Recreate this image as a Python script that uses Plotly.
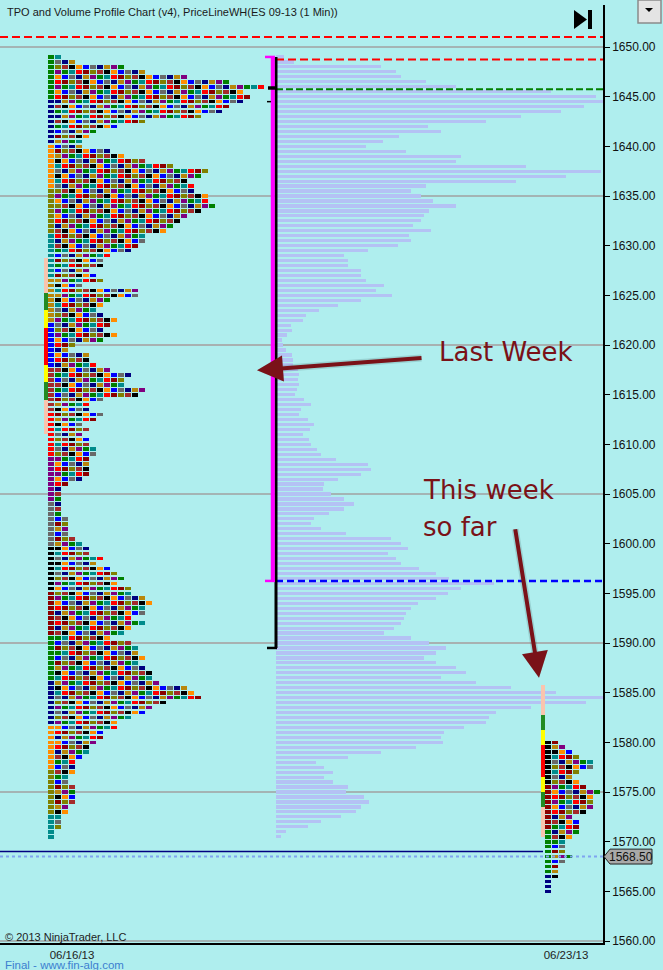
"""TPO and volume profile (ES 09-13, 1 min) rebuilt with Plotly bars and shapes."""

import numpy as np
import plotly.graph_objects as go

_BG = "#afeeee"
_INK = "#111111"
_FONT = "Arial, 'Liberation Sans', sans-serif"
_CALLOUT_FONT = "'DejaVu Sans', Verdana, sans-serif"
_MAROON = "#7a1218"
_VOL = "#b4c2f4"

# TPO palette (one colour per letter / time period)
_TPO_COLORS = ["#008000", "#ff0000", "#808000", "#000000", "#0000ff", "#000080",
               "#800080", "#008b8b", "#8b0000", "#a52a2a", "#ff8c00", "#696969",
               "#b8860b"]

# ---- data -----------------------------------------------------------------
STEP = 0.5

# last week: TPO count per 0.5 pt level, from 1649.00 down to 1570.50
LAST_TOP = 1649.0
LAST_TPO = [2, 4, 11, 14, 20, 26, 31, 28, 29, 28,
            26, 25, 22, 14, 10, 7, 6, 5, 5, 9,
            11, 14, 18, 23, 22, 20, 21, 21, 23, 23,
            24, 22, 20, 19, 18, 17, 14, 14, 13, 12,
            9, 8, 8, 6, 7, 8, 5, 13, 13, 9,
            8, 7, 8, 10, 9, 8, 10, 8, 4, 3,
            6, 6, 7, 9, 12, 11, 11, 14, 13, 8,
            6, 6, 8, 7, 5, 6, 5, 6, 6, 7,
            7, 6, 6, 6, 6, 5, 3, 2, 2, 2,
            2, 2, 2, 3, 3, 3, 3, 4, 5, 6,
            6, 8, 7, 9, 10, 11, 10, 12, 12, 14,
            15, 14, 14, 12, 14, 12, 11, 9, 12, 13,
            13, 14, 13, 14, 15, 15, 16, 20, 21, 22,
            17, 15, 14, 12, 10, 10, 8, 8, 7, 6,
            6, 5, 4, 4, 4, 3, 3, 4, 4, 4,
            4, 3, 3, 2, 2, 2, 1, 1]

# last week: volume per level (same ladder), in profile-width units
LAST_VOLUME = [8, 18, 105, 120, 125, 150, 180, 275, 320, 340,
               308, 285, 245, 210, 152, 165, 123, 107, 90, 130,
               185, 180, 250, 325, 290, 240, 150, 135, 145, 157,
               180, 153, 148, 145, 137, 155, 133, 135, 122, 92,
               68, 72, 72, 85, 85, 90, 108, 100, 116, 85,
               62, 43, 30, 27, 15, 16, 11, 6, 7, 10,
               16, 17, 17, 22, 23, 22, 23, 21, 19, 28,
               35, 25, 23, 32, 38, 34, 27, 33, 35, 41,
               45, 60, 92, 95, 85, 62, 48, 47, 55, 68,
               78, 68, 53, 38, 35, 45, 70, 115, 125, 132,
               112, 120, 125, 143, 160, 173, 218, 185, 172, 160,
               142, 135, 130, 128, 125, 118, 108, 135, 153, 170,
               160, 148, 160, 180, 190, 165, 200, 235, 280, 335,
               310, 255, 220, 213, 210, 188, 168, 165, 167, 140,
               105, 72, 40, 48, 57, 48, 57, 72, 70, 88,
               93, 85, 80, 65, 45, 32, 10, 5]

# this week so far: TPO count per level, from 1580.00 down to 1565.00
THIS_TOP = 1580.0
THIS_TPO = [2, 3, 4, 5, 7, 7, 5, 4, 5, 6, 8, 7, 7, 7, 6, 4,
            5, 5, 5, 4, 3, 3, 3, 4, 3, 2, 2, 2, 1, 1, 1]

# value-area strips: band edges (top to bottom) and band colours
LAST_VA = [1628.75, 1625.25, 1623.5, 1621.75, 1618.0, 1616.25, 1614.5, 1611.0]
THIS_VA = [1585.75, 1582.75, 1581.25, 1579.75, 1576.5, 1575.0, 1573.5, 1570.5]
VA_COLORS = ["#f9c4ae", "#228b22", "#ffff00", "#ff0000", "#ffff00", "#228b22", "#f9c4ae"]

# price lines
WEEK_HIGH = 1649.0
IB_LOW = 1596.25          # magenta bar bottom / blue dashed
RANGE_LOW = 1589.5        # black bar bottom
PREV_HIGH = 1651.0        # red dashed, full width
HIGH_LINE = 1648.75       # red dashed
POC_LINE = 1645.75        # green dashed
CLOSE_LINE = 1569.0       # navy solid
LAST_PRICE = 1568.5

PRICE_TICKS = list(range(1560, 1651, 5))
GRID_PRICES = [1650, 1635, 1620, 1605, 1590, 1575, 1560]
DATE_TICKS = [72, 566]
DATE_LABELS = ["06/16/13", "06/23/13"]

# ---- layout positions (x in pixel-like units, 0..603) ----------------------
X_MAX = 603
LAST_X0, THIS_X0, VOL_X0 = 48, 545, 276
BLOCK_PITCH, BLOCK_W, ROW_H = 7, 6, 0.37


def tpo_color(week, row, col):
    if col == 0:
        return _TPO_COLORS[(row // 9 * 5 + week * 3) % 13]
    return _TPO_COLORS[(row * 4 + col * 7 + row // 6 + week) % 13]


fig = go.Figure()

# volume profile (last week)
last_prices = LAST_TOP - STEP * np.arange(len(LAST_TPO))
fig.add_trace(go.Bar(
    y=last_prices, x=LAST_VOLUME, base=VOL_X0, orientation="h",
    width=0.32, marker=dict(color=_VOL, line_width=0), hoverinfo="skip",
))

# TPO blocks, grouped into one trace per colour
blocks = {c: ([], []) for c in _TPO_COLORS}
this_prices = THIS_TOP - STEP * np.arange(len(THIS_TPO))
for week, (prices, counts, x0) in enumerate([(last_prices, LAST_TPO, LAST_X0),
                                             (this_prices, THIS_TPO, THIS_X0)]):
    for row, (p, n) in enumerate(zip(prices, counts)):
        for col in range(n):
            ys, bases = blocks[tpo_color(week, row, col)]
            ys.append(p)
            bases.append(x0 + col * BLOCK_PITCH)
for color, (ys, bases) in blocks.items():
    fig.add_trace(go.Bar(
        y=ys, x=[BLOCK_W] * len(ys), base=bases, orientation="h",
        width=ROW_H, marker=dict(color=color, line_width=0), hoverinfo="skip",
    ))

# value-area strips
for edges, xc, w in [(LAST_VA, 45.8, 4.6), (THIS_VA, 542.8, 4.3)]:
    fig.add_trace(go.Bar(
        x=[xc] * len(VA_COLORS), y=np.diff(edges) * -1, base=edges[1:],
        width=w, marker=dict(color=VA_COLORS, line_width=0), hoverinfo="skip",
    ))

shapes = []
for g in GRID_PRICES:
    col = "#a69c9c" if g in (1620, 1590) else "#a0a0a0"
    shapes.append(dict(type="line", xref="paper", x0=0, x1=1, y0=g, y1=g,
                       line=dict(color=col, width=1.5), layer="below"))


def hline(y, x0, x1, color, width, dash="solid"):
    shapes.append(dict(type="line", x0=x0, x1=x1, y0=y, y1=y,
                       line=dict(color=color, width=width, dash=dash)))


hline(PREV_HIGH, 0, X_MAX, "#ff0000", 2, "8px,4px")
hline(HIGH_LINE, VOL_X0, X_MAX, "#ff0000", 2, "8px,4px")
hline(POC_LINE, VOL_X0, X_MAX, "#008000", 2, "7px,3px")
hline(IB_LOW, VOL_X0, X_MAX, "#0000ff", 2.5, "7px,4px")
hline(CLOSE_LINE, 0, THIS_X0 - 2, "#000080", 1.5)
hline(LAST_PRICE, 0, X_MAX, "#7fa4f0", 2, "dot")

# magenta / black range bars
shapes += [
    dict(type="line", x0=276, x1=276, y0=WEEK_HIGH, y1=RANGE_LOW,
         line=dict(color="black", width=3)),
    dict(type="line", x0=267, x1=277, y0=RANGE_LOW, y1=RANGE_LOW,
         line=dict(color="black", width=2.5)),
    dict(type="line", x0=272.8, x1=272.8, y0=WEEK_HIGH, y1=IB_LOW,
         line=dict(color="#ff00ff", width=4)),
    dict(type="line", x0=265, x1=275, y0=WEEK_HIGH, y1=WEEK_HIGH,
         line=dict(color="#ff00ff", width=2.5)),
    dict(type="line", x0=265, x1=275, y0=IB_LOW, y1=IB_LOW,
         line=dict(color="#ff00ff", width=2.5)),
    dict(type="rect", x0=268, x1=275, y0=POC_LINE - 0.05, y1=POC_LINE + 0.3,
         fillcolor="black", line_width=0),
    dict(type="line", x0=267, x1=271, y0=1644.5, y1=1644.5,
         line=dict(color="black", width=1.5)),
]


def py(pix):
    """Pixel row -> paper y (plot area spans rows 5..943)."""
    return (943 - pix) / 938


# "go to end" icon and the dropdown button
shapes += [
    dict(type="path", xref="x", yref="paper", fillcolor="black", line_width=0,
         path=f"M 574 {py(10)} L 574 {py(29)} L 587 {py(19.5)} Z"),
    dict(type="rect", xref="x", yref="paper", x0=588, x1=592, y0=py(29), y1=py(10),
         fillcolor="black", line_width=0),
    dict(type="rect", xref="paper", yref="paper", x0=638 / 603, x1=661 / 603,
         y0=py(23), y1=py(0), fillcolor="#e4e4e4", line=dict(color="#8a8a8a", width=1.5)),
    dict(type="path", xref="paper", yref="paper", fillcolor="black", line_width=0,
         path=f"M {645/603} {py(8)} L {653/603} {py(8)} L {649/603} {py(12)} Z"),
    # last-price flag
    dict(type="path", xref="paper", yref="y", fillcolor="#a9a9a9",
         line=dict(color="#222222", width=1),
         path=(f"M {604/603} {LAST_PRICE} L {610/603} {LAST_PRICE + 0.75} "
               f"L {652/603} {LAST_PRICE + 0.75} L {652/603} {LAST_PRICE - 0.75} "
               f"L {610/603} {LAST_PRICE - 0.75} Z")),
]

ann = [
    dict(text="TPO and Volume Profile Chart (v4), PriceLineWH(ES 09-13 (1 Min))",
         xref="paper", yref="paper", x=5 / 603, y=py(12), xanchor="left", yanchor="middle",
         showarrow=False, font=dict(family=_FONT, size=11, color="#1a1a1a")),
    dict(text="© 2013 NinjaTrader, LLC", xref="paper", yref="paper", x=3 / 603, y=py(937),
         xanchor="left", yanchor="middle", showarrow=False,
         font=dict(family=_FONT, size=11, color="#222222")),
    dict(text="Final - www.fin-alg.com", xref="paper", yref="paper", x=3 / 603, y=py(964.5),
         xanchor="left", yanchor="middle", showarrow=False,
         font=dict(family=_FONT, size=11.5, color="#3d7fd0")),
    dict(text="1568.50", xref="paper", yref="y", x=631 / 603, y=LAST_PRICE,
         xanchor="center", yanchor="middle", showarrow=False,
         font=dict(family=_FONT, size=12, color="#111111")),
]

# callouts: soft shadow arrow underneath, then the maroon arrow
for tip, tail in [((257, 1617.45), (423, 1618.7)), ((539, 1586.5), (515, 1601.6))]:
    for color, w, size in [("rgba(40,70,70,0.16)", 7, 0.75), (_MAROON, 4, 1.3)]:
        ann.append(dict(x=tip[0], y=tip[1], ax=tail[0], ay=tail[1], axref="x", ayref="y",
                        text="", showarrow=True, arrowhead=2, arrowsize=size,
                        arrowwidth=w, arrowcolor=color))
for txt, x, y in [("Last Week", 437, 1619.3), ("This week", 421, 1605.4),
                  ("so far", 421, 1601.7)]:
    ann.append(dict(text=txt, x=x, y=y, xanchor="left", yanchor="middle", showarrow=False,
                    font=dict(family=_CALLOUT_FONT, size=26, color=_MAROON)))

fig.update_layout(
    width=663, height=970, barmode="overlay", showlegend=False,
    paper_bgcolor=_BG, plot_bgcolor=_BG, bargap=0,
    margin=dict(l=0, r=60, t=5, b=27),
    shapes=shapes, annotations=ann, hovermode=False,
    font=dict(family=_FONT, color=_INK, size=12),
)
fig.update_xaxes(range=[0, X_MAX], tickvals=DATE_TICKS, ticktext=DATE_LABELS, ticks="",
                 showgrid=False, zeroline=False, showline=True, linecolor="black",
                 linewidth=1.5, tickfont=dict(size=11.5, color="#222222"))
fig.update_yaxes(range=[1559.80, 1654.23], side="right", tickvals=PRICE_TICKS,
                 tickformat=".2f", ticks="outside", ticklen=5, tickcolor="black",
                 showgrid=False, zeroline=False, showline=True, linecolor="black",
                 linewidth=1.5, tickfont=dict(size=12, color="#111111"))

# the page's default body margin would shift the chart; drop it
fig.write_html("out.html", config={"displayModeBar": False},
               post_script="document.body.style.margin='0';")
